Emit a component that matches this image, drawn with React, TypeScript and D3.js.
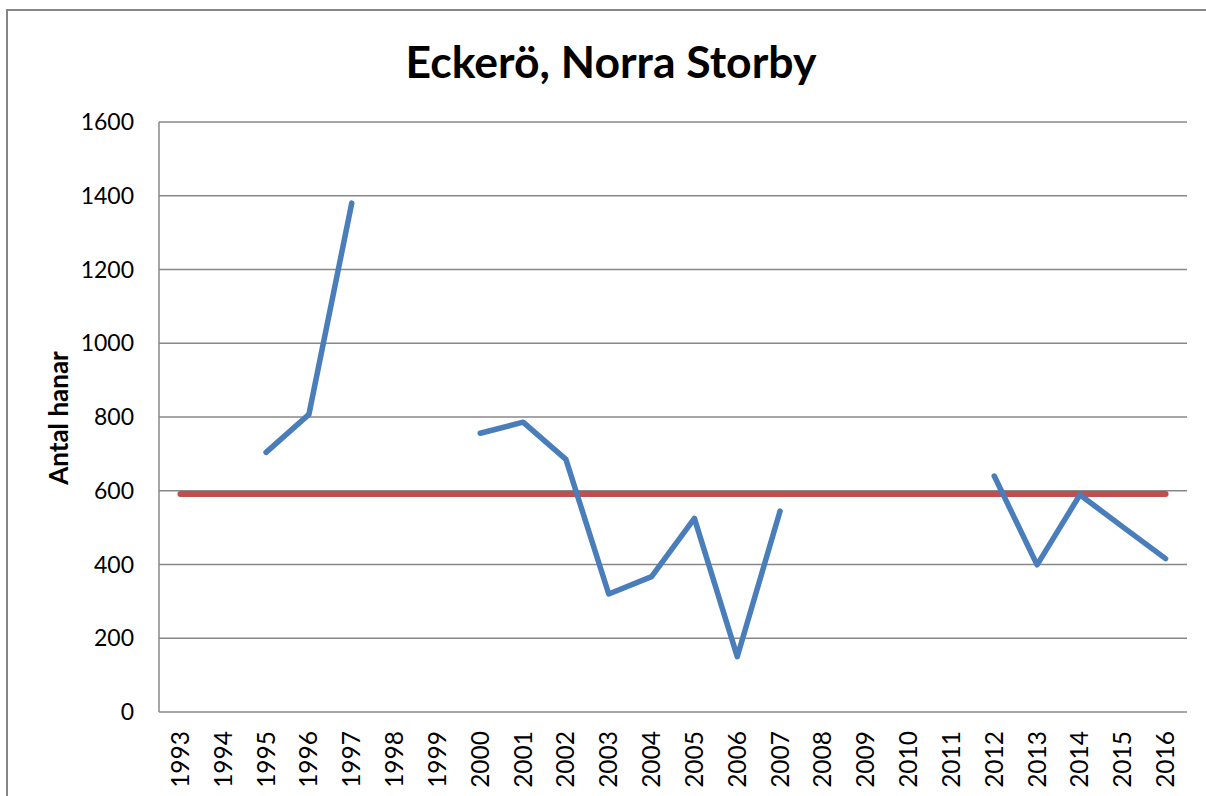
import React from "react";
import * as d3 from "d3";

const years = ["1993","1994","1995","1996","1997","1998","1999","2000","2001","2002","2003","2004","2005","2006","2007","2008","2009","2010","2011","2012","2013","2014","2015","2016"];
const counts: (number | null)[] = [null, null, 704, 807, 1380, null, null, 756, 786, 685, 320, 367, 525, 150, 545, null, null, null, null, 640, 399, 589, 502, 416];
const meanValue = 591;
const yTicks = [0, 200, 400, 600, 800, 1000, 1200, 1400, 1600];
const title = "Eckerö, Norra Storby";
const yTitle = "Antal hanar";

const W = 1206, H = 796;
const plot = { left: 159, right: 1187, top: 122, bottom: 712 };
const FONT = "Lato, 'Open Sans', sans-serif";

export default function App() {
  const x = d3.scaleBand<string>().domain(years).range([plot.left, plot.right]).paddingInner(0).paddingOuter(0);
  const cx = (y: string) => (x(y) ?? 0) + x.bandwidth() / 2;
  const y = d3.scaleLinear().domain([0, 1600]).range([plot.bottom, plot.top]);

  const pts = years.map((yr, i) => ({ yr, v: counts[i] }));
  const line = d3.line<{ yr: string; v: number | null }>()
    .defined(d => d.v !== null)
    .x(d => cx(d.yr))
    .y(d => y(d.v as number));
  const meanLine = d3.line<string>().x(d => cx(d)).y(() => y(meanValue));

  return (
    <svg width={W} height={H} style={{ position: "absolute", left: 0, top: 0, background: "#fff" }}>
      <rect x={7} y={10} width={1210} height={800} fill="#fff" stroke="#868686" strokeWidth={2} />
      <text x={611} y={78} textAnchor="middle" fontFamily={FONT} fontWeight="bold" fontSize={44.5} fill="#000">{title}</text>
      {yTicks.map(t => (
        <g key={t}>
          <line x1={plot.left} x2={plot.right} y1={y(t)} y2={y(t)} stroke="#888" strokeWidth={1.5} />
          <text x={134} y={y(t)} dy="0.35em" textAnchor="end" fontFamily={FONT} fontSize={23} fill="#000">{t}</text>
        </g>
      ))}
      <line x1={plot.left} x2={plot.left} y1={plot.top} y2={plot.bottom} stroke="#888" strokeWidth={1.5} />
      {years.map(yr => (
        <text key={yr} transform={`translate(${cx(yr)},731) rotate(-90)`} dy="0.35em" textAnchor="end" fontFamily={FONT} fontSize={24.5} fill="#000">{yr}</text>
      ))}
      <text transform={`translate(59,418) rotate(-90)`} dy="0.35em" textAnchor="middle" fontFamily={FONT} fontWeight="bold" fontSize={26} fill="#000">{yTitle}</text>
      <path d={meanLine(years) ?? ""} fill="none" stroke="#C0504D" strokeWidth={6} strokeLinecap="round" />
      <path d={line(pts) ?? ""} fill="none" stroke="#4A7EBB" strokeWidth={5.5} strokeLinecap="round" strokeLinejoin="round" />
    </svg>
  );
}
